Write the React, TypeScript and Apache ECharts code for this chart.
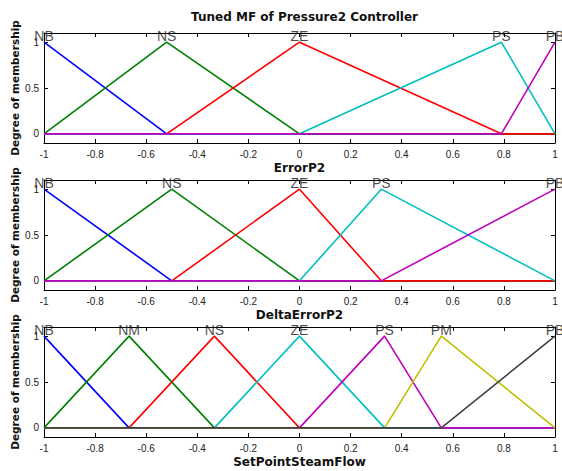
import React, { useEffect, useRef } from "react";
import * as echarts from "echarts";

// ---- data ----
const chartTitle = "Tuned MF of Pressure2 Controller";
const yAxisName = "Degree of membership";
const panelNames = ["ErrorP2", "DeltaErrorP2", "SetPointSteamFlow"];

const errorMfNames = ["NB", "NS", "ZE", "PS", "PB"];
const errorMfParams = [
  [-1, -1, -0.52],
  [-1, -0.52, 0],
  [-0.52, 0, 0.79],
  [0, 0.79, 1],
  [0.79, 1, 1],
];

const deltaMfNames = ["NB", "NS", "ZE", "PS", "PB"];
const deltaMfParams = [
  [-1, -1, -0.5],
  [-1, -0.5, 0],
  [-0.5, 0, 0.32],
  [0, 0.32, 1],
  [0.32, 1, 1],
];

const flowMfNames = ["NB", "NM", "NS", "ZE", "PS", "PM", "PB"];
const flowMfParams = [
  [-1, -1, -0.667],
  [-1, -0.667, -0.333],
  [-0.667, -0.333, 0],
  [-0.333, 0, 0.333],
  [0, 0.333, 0.555],
  [0.333, 0.555, 1],
  [0.555, 1, 1],
];

const yTickValues = [0, 0.5, 1];
const xMin = -1;
const xMax = 1;
const xStep = 0.2;

const mfColors = ["#0000ff", "#008000", "#ff0000", "#00bfbf", "#bf00bf", "#bfbf00", "#404040"];

// ---- helpers ----
function trimfValue(x: number, a: number, b: number, c: number) {
  if (x === b) return 1;
  if (x <= a || x >= c) return 0;
  if (x < b) return (x - a) / (b - a);
  return (c - x) / (c - b);
}

function trimfPoints(p: number[]) {
  const [a, b, c] = p;
  const xs = Array.from(new Set([xMin, a, b, c, xMax])).sort((m, n) => m - n);
  return xs.map((x) => [x, trimfValue(x, a, b, c)]);
}

const panels = [
  { names: errorMfNames, params: errorMfParams },
  { names: deltaMfNames, params: deltaMfParams },
  { names: flowMfNames, params: flowMfParams },
];

const FONT = "'Liberation Sans', Arial, sans-serif";
const BOLD_FONT = "'DejaVu Sans', 'Liberation Sans', sans-serif";

export default function App() {
  const ref = useRef<HTMLDivElement>(null);

  useEffect(() => {
    if (!ref.current) return;
    const chart = echarts.init(ref.current, undefined, { renderer: "svg" });

    const gridTops = [33, 180, 327];
    const gridLeft = 44;
    const gridWidth = 511;
    const gridHeight = 110;

    const grid: any[] = [];
    const xAxis: any[] = [];
    const yAxis: any[] = [];
    const series: any[] = [];

    const axisLine = { show: true, onZero: false, lineStyle: { color: "#000", width: 1 } };
    const axisTick = { show: true, inside: true, length: 4, lineStyle: { color: "#000", width: 1 } };

    panels.forEach((panel, i) => {
      grid.push({
        left: gridLeft,
        top: gridTops[i],
        width: gridWidth,
        height: gridHeight,
        outerBoundsMode: "none",
        containLabel: false,
      });
      // bottom x
      xAxis.push({
        type: "value",
        gridIndex: i,
        position: "bottom",
        min: xMin,
        max: xMax,
        interval: xStep,
        axisLine,
        axisTick,
        splitLine: { show: false },
        axisLabel: { fontSize: 10, color: "#222", margin: 6, fontFamily: FONT },
        name: panelNames[i],
        nameLocation: "middle",
        nameGap: 19,
        nameMoveOverlap: false,
        nameTextStyle: { fontSize: 12, fontWeight: "bold", color: "#111", fontFamily: BOLD_FONT },
      });
      // top x
      xAxis.push({
        type: "value",
        gridIndex: i,
        position: "top",
        min: xMin,
        max: xMax,
        interval: xStep,
        axisLine,
        axisTick,
        splitLine: { show: false },
        axisLabel: { show: false },
      });
      // left y
      yAxis.push({
        type: "value",
        gridIndex: i,
        position: "left",
        min: -0.1,
        max: 1.1,
        axisLine,
        axisTick: { ...axisTick, customValues: yTickValues },
        splitLine: { show: false },
        axisLabel: { fontSize: 10, color: "#222", margin: 5, fontFamily: FONT, customValues: yTickValues },
        name: yAxisName,
        nameLocation: "middle",
        nameRotate: 90,
        nameGap: 24,
        nameMoveOverlap: false,
        nameTextStyle: { fontSize: 10.5, fontWeight: "bold", color: "#111", fontFamily: BOLD_FONT },
      });
      // right y
      yAxis.push({
        type: "value",
        gridIndex: i,
        position: "right",
        min: -0.1,
        max: 1.1,
        axisLine,
        axisTick: { ...axisTick, customValues: yTickValues },
        splitLine: { show: false },
        axisLabel: { show: false, customValues: yTickValues },
      });

      panel.params.forEach((p, k) => {
        series.push({
          type: "line",
          name: `${panelNames[i]}-${panel.names[k]}`,
          xAxisIndex: i * 2,
          yAxisIndex: i * 2,
          data: trimfPoints(p),
          symbol: "none",
          lineStyle: { color: mfColors[k], width: 1.6 },
          itemStyle: { color: mfColors[k] },
          silent: true,
          z: 2,
        });
      });

      series.push({
        type: "scatter",
        xAxisIndex: i * 2,
        yAxisIndex: i * 2,
        symbolSize: 1,
        itemStyle: { color: "rgba(0,0,0,0)" },
        silent: true,
        z: 5,
        data: panel.params.map((p, k) => ({ value: [p[1], 1], name: panel.names[k] })),
        label: {
          show: true,
          position: "inside",
          offset: [0, -6],
          formatter: (d: any) => d.name,
          fontSize: 14,
          color: "#1a1a1a",
          fontFamily: FONT,
        },
      });
    });

    chart.setOption({
      animation: false,
      backgroundColor: "#ffffff",
      title: {
        text: chartTitle,
        left: gridLeft + gridWidth / 2,
        textAlign: "center",
        top: 6,
        textStyle: { fontSize: 12, fontWeight: "bold", color: "#111", fontFamily: BOLD_FONT },
      },
      grid,
      xAxis,
      yAxis,
      series,
    });

    return () => chart.dispose();
  }, []);

  return (
    <div
      ref={ref}
      style={{ position: "absolute", left: 0, top: 0, width: 562, height: 471, background: "#fff" }}
    />
  );
}
